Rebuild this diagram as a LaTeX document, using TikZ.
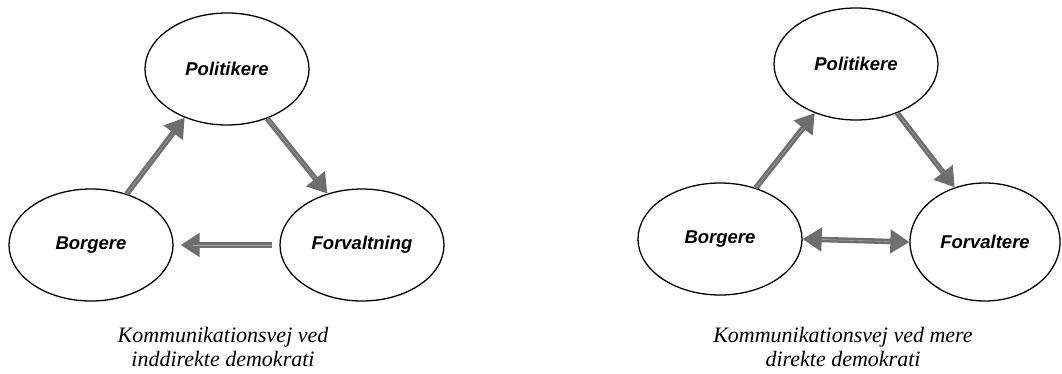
\documentclass[tikz,border=0pt]{standalone}
\usepackage{fontspec}
\setmainfont{Liberation Serif}
\setsansfont{Liberation Sans}
\usepackage{xcolor}
\usetikzlibrary{arrows.meta, shapes.geometric}
\definecolor{flowgray}{RGB}{110,110,110}

\begin{document}
\begin{tikzpicture}[
    x=1pt, y=-1pt,
    actor/.style={ellipse, draw=black, line width=1.3pt, inner sep=0pt, minimum width=164pt, minimum height=112pt, font=\sffamily\bfseries\itshape\fontsize{18.5}{21}\selectfont},
    arrow/.style={-{Triangle[length=19pt 0 0, width=23pt 0 0]}, line width=5.5pt, draw=flowgray, postaction={draw=flowgray!55!white, line width=0.4pt, shorten >=19pt, -}},
    twoway/.style={{Triangle[length=19pt 0 0, width=23pt 0 0]}-{Triangle[length=19pt 0 0, width=23pt 0 0]}, line width=5.5pt, draw=flowgray, postaction={draw=flowgray!55!white, line width=0.4pt, shorten <=19pt, shorten >=19pt, -}},
    caption/.style={align=center, font=\itshape\fontsize{22}{24}\selectfont}
]
    \useasboundingbox[fill=white] (0,0) rectangle (1062,374);

    \node[actor] (pol1) at (227,69) {Politikere};
    \node[actor] (borg1) at (91,245) {Borgere};
    \node[actor] (forv1) at (362,245) {Forvaltning};
    \node[caption] (cap1) at (223,347) {Kommunikationsvej ved\\inddirekte demokrati};

    \draw[arrow] (borg1.55) -- (pol1.229);
    \draw[arrow] (pol1.309) -- (forv1.124);
    \draw[arrow, shorten <=7pt, shorten >=7pt] (forv1.west) -- (borg1.east);

    \node[actor] (pol2) at (856,64) {Politikere};
    \node[actor] (borg2) at (720,239) {Borgere};
    \node[actor, minimum width=150pt, minimum height=118pt] (forv2) at (985,242) {Forvaltere};
    \node[caption] (cap2) at (843,347) {Kommunikationsvej ved mere\\direkte demokrati};

    \draw[arrow] (borg2.55) -- (pol2.230);
    \draw[arrow] (pol2.310) -- (forv2.119);
    \draw[twoway] (borg2.east) -- (forv2.west);
\end{tikzpicture}
\end{document}
